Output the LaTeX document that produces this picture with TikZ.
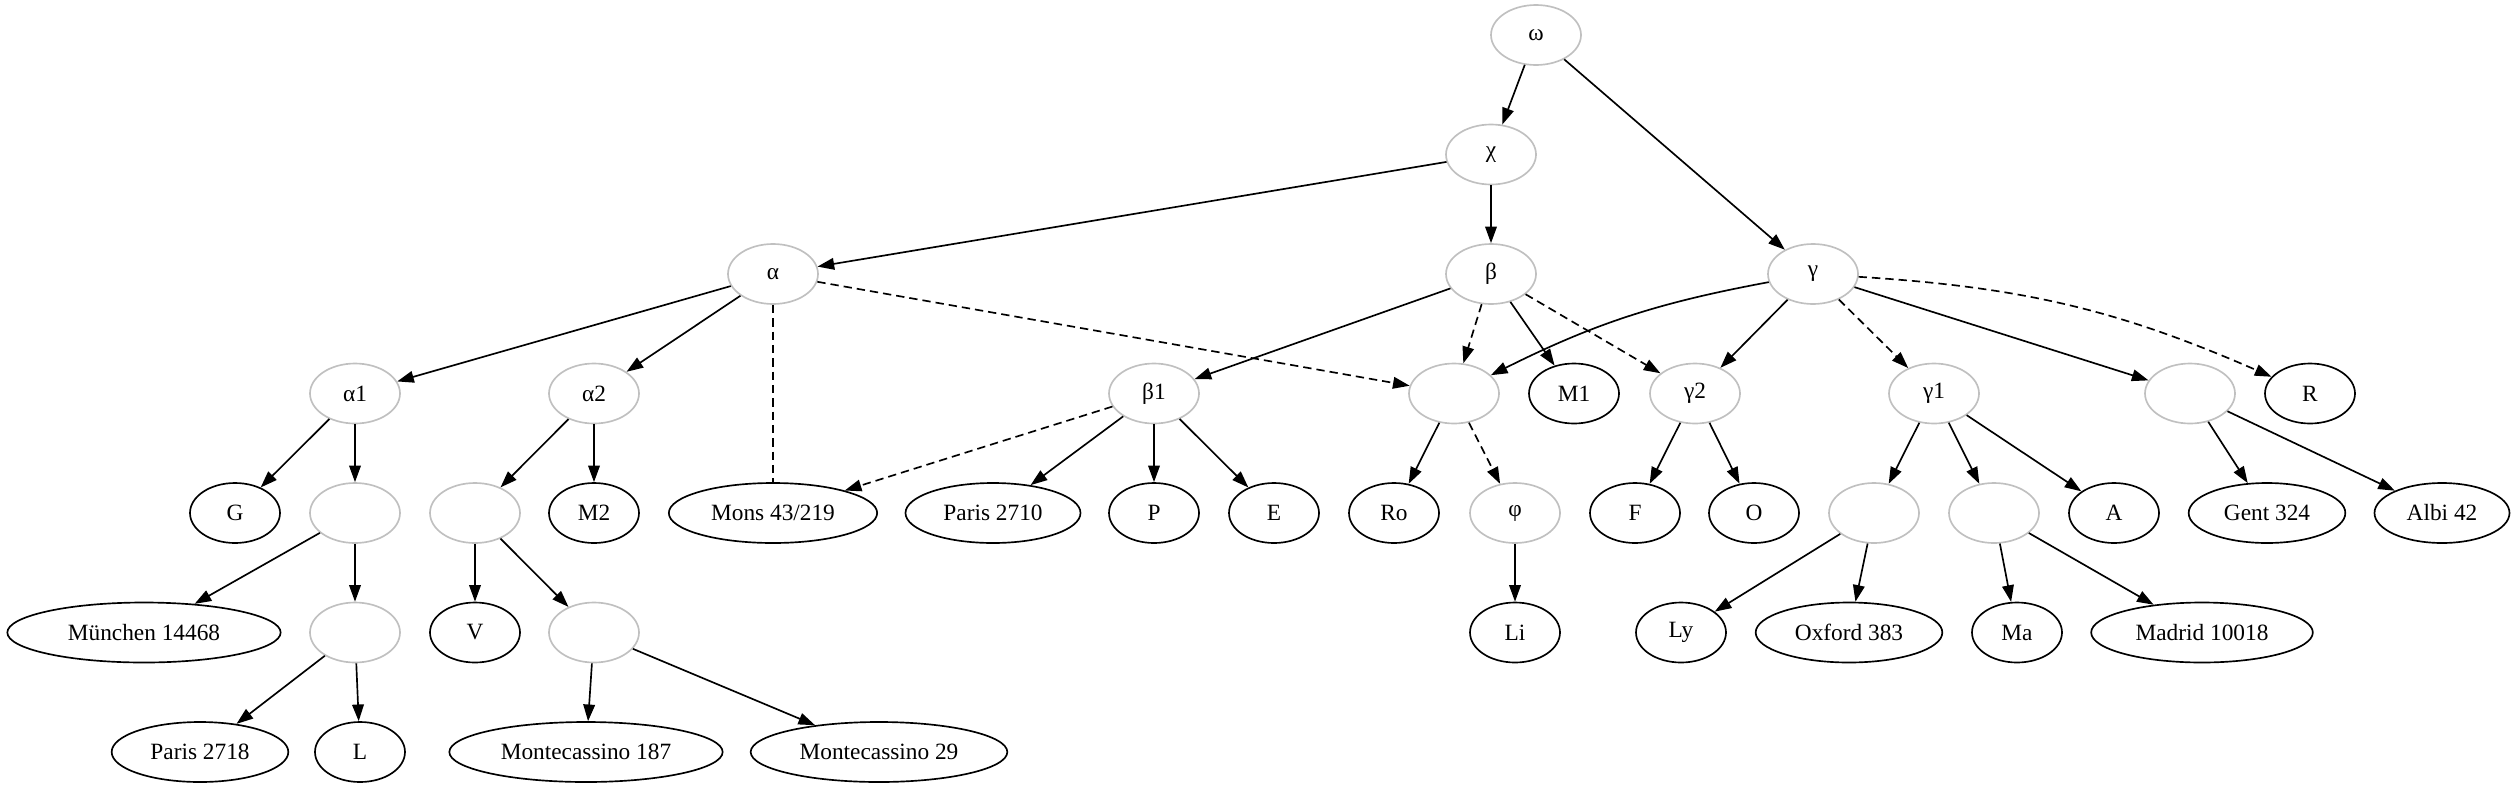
\documentclass[tikz,border=0pt]{standalone}
\usepackage{fontspec}
\setmainfont{Liberation Serif}
\usetikzlibrary{shapes.geometric,arrows.meta}
\definecolor{lostgray}{RGB}{192,192,192}

\begin{document}
\begin{tikzpicture}[x=0.6pt, y=-0.6pt,
		wit/.style={draw=black, ellipse, line width=1pt, inner sep=0pt, minimum width=54pt, minimum height=36pt, font=\fontsize{14}{16}\selectfont},
		hyp/.style={wit, draw=lostgray},
		tie/.style={-{Triangle[length=10pt,width=7pt]}, line width=1pt},
		lost/.style={tie, dash pattern=on 5pt off 3pt},
		contam/.style={line width=1pt, dash pattern=on 5pt off 3pt}]
			\useasboundingbox (0,0) rectangle (2516,793);
			% archetypes
			\node[hyp] (omega) at (1536,35) {ω};
			\node[hyp] (chi) at (1491,154.5) {χ};
			\node[hyp] (alpha) at (773,274) {α};
			\node[hyp] (beta) at (1491,274) {β};
			\node[hyp] (gamma) at (1813,274) {γ};
			% third row
			\node[hyp] (alphaI) at (355,393.5) {α1};
			\node[hyp] (alphaII) at (594,393.5) {α2};
			\node[hyp] (betaI) at (1154,393.5) {β1};
			\node[hyp] (h1) at (1454,393.5) {};
			\node[wit] (M1) at (1574,393.5) {M1};
			\node[hyp] (gammaII) at (1695,393.5) {γ2};
			\node[hyp] (gammaI) at (1934,393.5) {γ1};
			\node[hyp] (h2) at (2190,393.5) {};
			\node[wit] (R) at (2310,393.5) {R};
			% fourth row
			\node[wit] (G) at (235,513) {G};
			\node[hyp] (h3) at (355,513) {};
			\node[hyp] (h4) at (475,513) {};
			\node[wit] (M2) at (594,513) {M2};
			\node[wit, minimum width=125pt] (mons) at (773,513) {Mons 43/219};
			\node[wit, minimum width=105pt] (paris2710) at (993,513) {Paris 2710};
			\node[wit] (P) at (1154,513) {P};
			\node[wit] (E) at (1274,513) {E};
			\node[wit] (Ro) at (1394,513) {Ro};
			\node[hyp] (phi) at (1515,513) {φ};
			\node[wit] (F) at (1635,513) {F};
			\node[wit] (O) at (1754,513) {O};
			\node[hyp] (h5) at (1874,513) {};
			\node[hyp] (h6) at (1994,513) {};
			\node[wit] (A) at (2114,513) {A};
			\node[wit, minimum width=94pt] (gent) at (2267,513) {Gent 324};
			\node[wit, minimum width=81pt] (albi) at (2442,513) {Albi 42};
			% fifth row
			\node[wit, minimum width=164pt] (munich) at (144,632.5) {München 14468};
			\node[hyp] (h7) at (355,632.5) {};
			\node[wit] (V) at (475,632.5) {V};
			\node[hyp] (h8) at (594,632.5) {};
			\node[wit] (Li) at (1515,632.5) {Li};
			\node[wit] (Ly) at (1681,632.5) {Ly};
			\node[wit, minimum width=112pt] (oxford) at (1849,632.5) {Oxford 383};
			\node[wit] (Ma) at (2017,632.5) {Ma};
			\node[wit, minimum width=133pt] (madrid) at (2202,632.5) {Madrid 10018};
			% last row
			\node[wit, minimum width=106pt] (paris2718) at (200,752) {Paris 2718};
			\node[wit] (L) at (360,752) {L};
			\node[wit, minimum width=164pt] (mc187) at (586,752) {Montecassino 187};
			\node[wit, minimum width=154pt] (mc29) at (879,752) {Montecassino 29};
			% filiation
			\draw[tie] (omega) -- (chi);
			\draw[tie] (omega) -- (gamma);
			\draw[tie] (chi) -- (alpha);
			\draw[tie] (chi) -- (beta);
			\draw[tie] (alpha) -- (alphaI);
			\draw[tie] (alpha) -- (alphaII);
			\draw[tie] (beta) -- (betaI);
			\draw[tie] (beta) -- (M1);
			\draw[tie] (gamma) to[bend right=8] (h1);
			\draw[tie] (gamma) -- (gammaII);
			\draw[tie] (gamma) -- (h2);
			\draw[tie] (alphaI) -- (G);
			\draw[tie] (alphaI) -- (h3);
			\draw[tie] (alphaII) -- (h4);
			\draw[tie] (alphaII) -- (M2);
			\draw[tie] (betaI) -- (paris2710);
			\draw[tie] (betaI) -- (P);
			\draw[tie] (betaI) -- (E);
			\draw[tie] (h1) -- (Ro);
			\draw[tie] (gammaII) -- (F);
			\draw[tie] (gammaII) -- (O);
			\draw[tie] (gammaI) -- (h5);
			\draw[tie] (gammaI) -- (h6);
			\draw[tie] (gammaI) -- (A);
			\draw[tie] (h2) -- (gent);
			\draw[tie] (h2) -- (albi);
			\draw[tie] (h3) -- (munich);
			\draw[tie] (h3) -- (h7);
			\draw[tie] (h4) -- (V);
			\draw[tie] (h4) -- (h8);
			\draw[tie] (phi) -- (Li);
			\draw[tie] (h5) -- (Ly);
			\draw[tie] (h5) -- (oxford);
			\draw[tie] (h6) -- (Ma);
			\draw[tie] (h6) -- (madrid);
			\draw[tie] (h7) -- (paris2718);
			\draw[tie] (h7) -- (L);
			\draw[tie] (h8) -- (mc187);
			\draw[tie] (h8) -- (mc29);
			% contamination
			\draw[lost] (alpha) -- (h1);
			\draw[lost] (beta) -- (h1);
			\draw[lost] (beta) -- (gammaII);
			\draw[lost] (gamma) -- (gammaI);
			\draw[lost] (gamma) to[bend left=10] (R);
			\draw[lost] (betaI) -- (mons);
			\draw[lost] (h1) -- (phi);
			\draw[contam] (alpha) -- (mons);
		\end{tikzpicture}
\end{document}
